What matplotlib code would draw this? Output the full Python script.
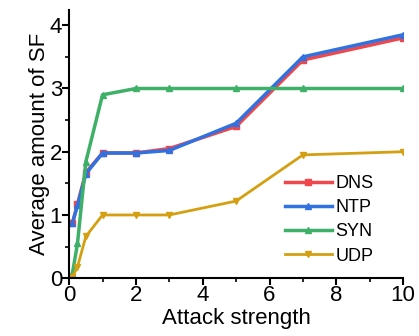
import numpy as np
import matplotlib
matplotlib.use('Agg')
import matplotlib.pyplot as plt
from matplotlib.ticker import MultipleLocator

plt.rcParams['font.family'] = ['Liberation Sans', 'DejaVu Sans']

# attack strength
x = [0.1, 0.25, 0.5, 1, 2, 3, 5, 7, 10]

dns = [0.87, 1.17, 1.67, 1.98, 1.98, 2.05, 2.4, 3.45, 3.8]
ntp = [0.88, 1.15, 1.65, 1.98, 1.98, 2.02, 2.45, 3.5, 3.85]
syn = [0.08, 0.55, 1.84, 2.9, 3.0, 3.0, 3.0, 3.0, 3.0]
udp = [0.02, 0.18, 0.66, 1.0, 1.0, 1.0, 1.22, 1.95, 2.0]

fig = plt.figure(figsize=(4.19, 3.36), dpi=100)
ax = fig.add_axes([0.165, 0.172, 0.797, 0.798])

ax.plot(x, dns, color='#f0474c', marker='s', ms=5, lw=2.5, label='DNS')
ax.plot(x, ntp, color='#2f72e0', marker='^', ms=4, lw=2.5, label='NTP')
ax.plot(x, syn, color='#3fb068', marker='^', ms=5, lw=2.5, label='SYN')
ax.plot(x, udp, color='#d4a012', marker='v', ms=5, lw=2.0, label='UDP')

ax.set_xlim(0, 10)
ax.set_ylim(0, 4.24)
ax.xaxis.set_major_locator(MultipleLocator(2))
ax.xaxis.set_minor_locator(MultipleLocator(1))
ax.yaxis.set_major_locator(MultipleLocator(1))
ax.yaxis.set_minor_locator(MultipleLocator(0.5))

for s in ['top', 'right']:
    ax.spines[s].set_visible(False)
for s in ['left', 'bottom']:
    ax.spines[s].set_linewidth(1.5)

ax.tick_params(which='major', direction='out', length=5, width=1.5, labelsize=16, pad=0)
ax.tick_params(which='minor', direction='out', length=3, width=1.2)

ax.set_xlabel('Attack strength', fontsize=16, labelpad=1)
ax.set_ylabel('Average amount of SF', fontsize=16, labelpad=0)

ax.legend(loc='lower right', bbox_to_anchor=(0.96, -0.01), frameon=False, fontsize=13,
          handlelength=2.6, handletextpad=0.2, labelspacing=0.4)

plt.savefig('out.png', dpi=100)
